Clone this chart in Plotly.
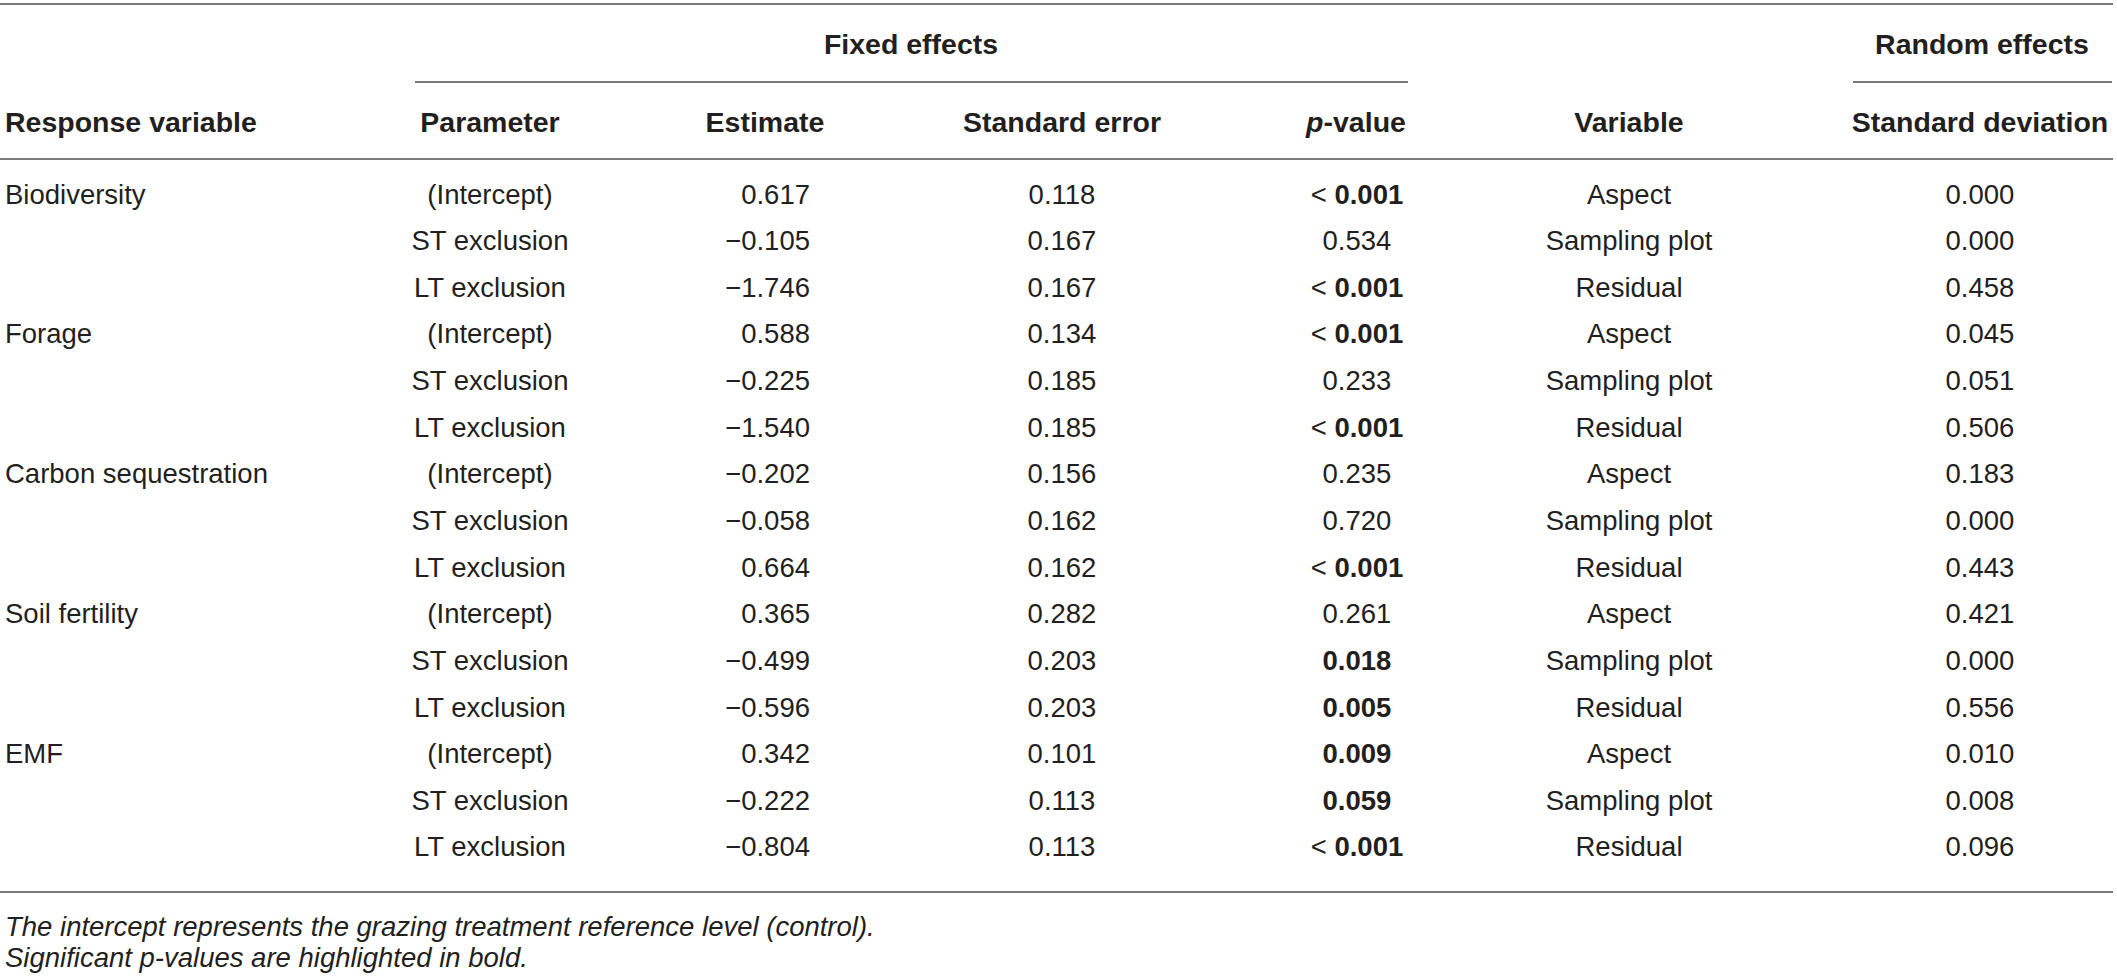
import plotly.graph_objects as go

# ---------------- data ----------------
response_vars = ["Biodiversity", "Forage", "Carbon sequestration", "Soil fertility", "EMF"]
parameters = ["(Intercept)", "ST exclusion", "LT exclusion"]
estimates = [0.617, -0.105, -1.746,
             0.588, -0.225, -1.540,
             -0.202, -0.058, 0.664,
             0.365, -0.499, -0.596,
             0.342, -0.222, -0.804]
std_errors = [0.118, 0.167, 0.167,
              0.134, 0.185, 0.185,
              0.156, 0.162, 0.162,
              0.282, 0.203, 0.203,
              0.101, 0.113, 0.113]
p_values = ["< 0.001", "0.534", "< 0.001",
            "< 0.001", "0.233", "< 0.001",
            "0.235", "0.720", "< 0.001",
            "0.261", "0.018", "0.005",
            "0.009", "0.059", "< 0.001"]
p_significant = [True, False, True,
                 True, False, True,
                 False, False, True,
                 False, True, True,
                 True, True, True]
random_vars = ["Aspect", "Sampling plot", "Residual"]
std_devs = [0.000, 0.000, 0.458,
            0.045, 0.051, 0.506,
            0.183, 0.000, 0.443,
            0.421, 0.000, 0.556,
            0.010, 0.008, 0.096]
group_headers = ["Fixed effects", "Random effects"]
column_headers = ["Response variable", "Parameter", "Estimate", "Standard error",
                  "<i>p</i>-value", "Variable", "Standard deviation"]
footnotes = ["The intercept represents the grazing treatment reference level (control).",
             "Significant <i>p</i>-values are highlighted in bold."]

# ---------------- layout helpers ----------------
W, H = 2117, 978
ROW0, ROWH = 196.7, 46.63         # pixel centre of first row, row pitch


def rowpos(px):
    """pixel y -> row units"""
    return (px - ROW0) / ROWH


FONT = "Liberation Sans, Arial, Helvetica, sans-serif"
BODY_SIZE = 27.5
HEAD_SIZE = 28.5
TXT = "#231f20"
LINE = "#7a7a7a"

n = len(estimates)
rows = list(range(n))


def fmt(v):
    return f"{v:.3f}".replace("-", "\u2212")


def ptxt(s, sig):
    s = s.replace("<", "&lt;")
    if not sig:
        return s
    if s.startswith("&lt; "):
        return "&lt; <b>" + s[5:] + "</b>"
    return "<b>" + s + "</b>"


col_resp = [response_vars[i // 3] if i % 3 == 0 else "" for i in rows]
col_param = [parameters[i % 3] for i in rows]
col_est = [fmt(v) for v in estimates]
col_se = [fmt(v) for v in std_errors]
col_p = [ptxt(p, s) for p, s in zip(p_values, p_significant)]
col_var = [random_vars[i % 3] for i in rows]
col_sd = [fmt(v) for v in std_devs]

# column anchors (x, textposition)
columns = [
    (col_resp, 5, "middle right"),
    (col_param, 490, "middle center"),
    (col_est, 810, "middle left"),
    (col_se, 1062, "middle center"),
    (col_p, 1357, "middle center"),
    (col_var, 1629, "middle center"),
    (col_sd, 1980, "middle center"),
]
header_anchor = [(5, "middle right"), (490, "middle center"), (765, "middle center"),
                 (1062, "middle center"), (1356, "middle center"), (1629, "middle center"),
                 (1980, "middle center")]

fig = go.Figure()

for texts, x, pos in columns:
    fig.add_trace(go.Scatter(
        x=[x] * n, y=rows, text=texts, mode="text", textposition=pos,
        textfont=dict(family=FONT, size=BODY_SIZE, color=TXT),
        hoverinfo="skip", showlegend=False, cliponaxis=False))

# column headers
for txt, (x, pos) in zip(column_headers, header_anchor):
    fig.add_trace(go.Scatter(
        x=[x], y=[rowpos(125)], text=["<b>" + txt + "</b>"], mode="text", textposition=pos,
        textfont=dict(family=FONT, size=HEAD_SIZE, color=TXT),
        hoverinfo="skip", showlegend=False, cliponaxis=False))

# group headers
for txt, x in zip(group_headers, [911, 1982]):
    fig.add_trace(go.Scatter(
        x=[x], y=[rowpos(47)], text=["<b>" + txt + "</b>"], mode="text", textposition="middle center",
        textfont=dict(family=FONT, size=HEAD_SIZE, color=TXT),
        hoverinfo="skip", showlegend=False, cliponaxis=False))

# footnotes
for txt, py in zip(footnotes, [929, 960]):
    fig.add_trace(go.Scatter(
        x=[5], y=[rowpos(py)], text=["<i>" + txt + "</i>"], mode="text", textposition="middle right",
        textfont=dict(family=FONT, size=BODY_SIZE, color=TXT),
        hoverinfo="skip", showlegend=False, cliponaxis=False))

# rules
rules = [
    (0, 2113, 4),
    (415, 1408, 82),
    (1853, 2112, 82),
    (0, 2113, 159),
    (0, 2113, 892),
]
for x0, x1, py in rules:
    fig.add_shape(type="line", xref="x", yref="y", x0=x0, x1=x1,
                  y0=rowpos(py), y1=rowpos(py), line=dict(color=LINE, width=2))

fig.update_xaxes(visible=False, range=[0, W], fixedrange=True)
fig.update_yaxes(visible=False, range=[rowpos(H), rowpos(0)], fixedrange=True)
fig.update_layout(width=W, height=H, margin=dict(l=0, r=0, t=0, b=0),
                  paper_bgcolor="white", plot_bgcolor="white")

fig.write_html("out.html",
               config={"displayModeBar": False},
               post_script="document.body.style.margin='0';"
                           "document.body.style.overflow='hidden';")
